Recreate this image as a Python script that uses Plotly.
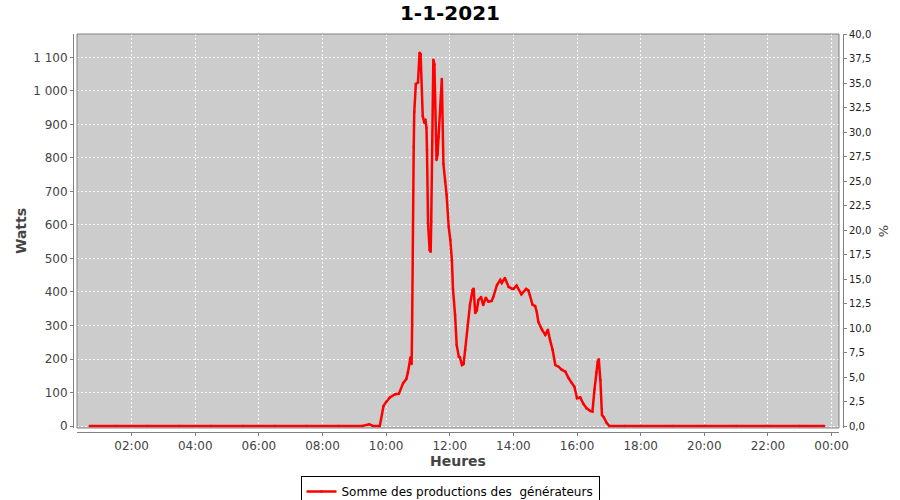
import plotly.graph_objects as go

jour = "2021-01-01"
heures = ["00:41", "01:30", "02:30", "03:30", "04:30", "05:30", "06:30", "07:30", "08:30", "09:15",
          "09:28", "09:35", "09:48", "09:55", "10:00", "10:07", "10:17", "10:24", "10:32", "10:38",
          "10:41", "10:45", "10:46", "10:48", "10:49", "10:52", "10:53", "10:56", "11:00", "11:03",
          "11:05", "11:09", "11:12", "11:14", "11:16", "11:17", "11:19", "11:22", "11:24", "11:25",
          "11:29", "11:31", "11:35", "11:37", "11:39", "11:45", "11:48", "11:51", "11:54", "11:58",
          "12:01", "12:04", "12:06", "12:10", "12:13", "12:17", "12:19", "12:23", "12:26", "12:29",
          "12:34", "12:38", "12:43", "12:45", "12:48", "12:51", "12:54", "12:59", "13:03", "13:08",
          "13:13", "13:19", "13:22", "13:29", "13:35", "13:38", "13:44", "13:51", "13:57", "14:00",
          "14:06", "14:15", "14:24", "14:28", "14:31", "14:36", "14:41", "14:44", "14:47", "14:54",
          "15:00", "15:05", "15:09", "15:14", "15:19", "15:25", "15:31", "15:38", "15:44", "15:50",
          "15:55", "16:00", "16:06", "16:12", "16:18", "16:25", "16:29", "16:33", "16:36", "16:39",
          "16:41", "16:44", "16:47", "16:50", "16:56", "17:01", "17:30", "18:00", "19:00", "20:00",
          "21:00", "22:00", "23:00", "23:46"]
watts = [0, 0, 0, 0, 0, 0, 0, 0, 0, 0,
         5, 0, 0, 60, 72, 85, 95, 96, 128, 140,
         160, 200, 205, 185, 300, 833, 937, 1021, 1025, 1114,
         1110, 925, 905, 915, 890, 824, 605, 525, 520, 610,
         1093, 1080, 794, 810, 863, 1036, 782, 730, 690, 594,
         555, 495, 410, 331, 242, 207, 205, 182, 185, 227,
         300, 361, 406, 410, 337, 345, 376, 385, 361, 383,
         371, 373, 385, 421, 436, 427, 442, 415, 410, 409,
         419, 393, 409, 405, 391, 362, 358, 341, 311, 287,
         272, 287, 257, 227, 182, 177, 168, 162, 143, 128,
         117, 83, 85, 66, 53, 45, 43, 110, 160, 192,
         199, 137, 33, 27, 9, 0, 0, 0, 0, 0,
         0, 0, 0, 0]

x_vals = [f"{jour} {h}" for h in heures]

# plot area geometry (pixels)
L, R, T, B = 73, 57, 34, 68
W, H = 900, 500
pw, ph = W - L - R, H - T - B
xd = [4 / pw, (pw - 4) / pw]
yd = [4 / ph, 1.0]

fig = go.Figure()
fig.add_trace(go.Scatter(
    x=x_vals, y=watts, mode="lines+markers",
    name="Somme des productions des\u00a0 générateurs",
    line=dict(color="#ff0000", width=2.5),
    marker=dict(color="#ff0000", size=2.5),
    xaxis="x", yaxis="y",
))
fig.add_trace(go.Scatter(x=[], y=[], yaxis="y2", showlegend=False, hoverinfo="skip"))

axis_col = "#808080"
lab_col = "#444444"
grid_col = "rgba(255,255,255,0.85)"
font = "DejaVu Sans"

fig.update_layout(
    width=W, height=H,
    margin=dict(l=L, r=R, t=T, b=B, autoexpand=False),
    paper_bgcolor="white", plot_bgcolor="#cccccc",
    separators=", ",
    font=dict(family=font, color=lab_col, size=12),
    title=dict(text="<b>1-1-2021</b>", x=0.5, xref="container", xanchor="center",
               y=1 - 13 / 500, yref="container", yanchor="middle",
               font=dict(family=font, size=20, color="black")),
    xaxis=dict(
        domain=xd, anchor="free", position=0,
        type="date",
        range=["2021-01-01 00:17", "2021-01-02 00:14"],
        tick0="2021-01-01 00:00", dtick=7200000, tickformat="%H:%M",
        showgrid=True, gridcolor=grid_col, griddash="2px,2px", gridwidth=1,
        showline=True, linecolor=axis_col, linewidth=1,
        ticks="outside", ticklen=3, tickcolor=axis_col,
        tickfont=dict(size=12, color=lab_col),
        title=dict(text="<b>Heures</b>", font=dict(size=14, color=lab_col), standoff=3),
        zeroline=False, automargin=False,
    ),
    yaxis=dict(
        domain=yd, anchor="free", position=0,
        range=[-5.97, 1170.1],
        tickmode="linear", tick0=0, dtick=100, tickformat=",d",
        showgrid=True, gridcolor=grid_col, griddash="2px,2px", gridwidth=1,
        showline=True, linecolor=axis_col, linewidth=1,
        ticks="outside", ticklen=3, tickcolor=axis_col,
        tickfont=dict(size=12, color=lab_col),
        title=dict(text="<b>Watts</b>", font=dict(size=14, color=lab_col), standoff=2),
        zeroline=False, automargin=False,
    ),
    yaxis2=dict(
        overlaying="y", side="right", anchor="free", position=1,
        range=[-0.204, 40],
        tickmode="linear", tick0=0, dtick=2.5, tickformat=".1f",
        showgrid=False,
        showline=True, linecolor=axis_col, linewidth=1,
        ticks="outside", ticklen=3, tickcolor=axis_col,
        tickfont=dict(size=10, color="#222222"),
        title=dict(text="%", font=dict(size=13, color=lab_col), standoff=8),
        zeroline=False, automargin=False,
    ),
    showlegend=True,
    legend=dict(
        orientation="h", xref="container", x=0.5, xanchor="center",
        yref="container", y=1 - 476 / 500, yanchor="top",
        bgcolor="white", bordercolor="black", borderwidth=1,
        font=dict(size=12, color="black"), itemwidth=30,
    ),
    shapes=[dict(type="rect", xref="paper", yref="paper",
                 x0=xd[0], x1=xd[1], y0=yd[0], y1=yd[1],
                 line=dict(color=axis_col, width=1), layer="above")],
)

fig.write_html("out.html", config={"displayModeBar": False},
               post_script="document.body.style.margin='0';")
